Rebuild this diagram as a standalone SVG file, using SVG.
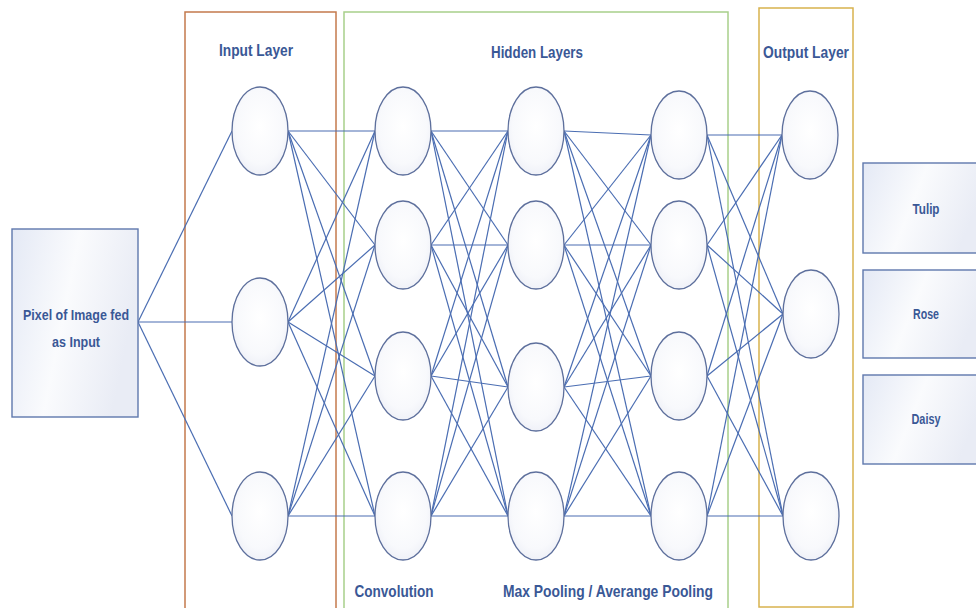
<svg xmlns="http://www.w3.org/2000/svg" width="976" height="608" viewBox="0 0 976 608">
  <defs>
    <radialGradient id="nodeFill" cx="50%" cy="45%" r="60%">
      <stop offset="0" stop-color="#ffffff"/>
      <stop offset="0.7" stop-color="#f8f9fc"/>
      <stop offset="1" stop-color="#eceef6"/>
    </radialGradient>
    <linearGradient id="boxFill" x1="0" y1="0" x2="1" y2="0.3">
      <stop offset="0" stop-color="#e4e9f5"/>
      <stop offset="0.5" stop-color="#fafbfd"/>
      <stop offset="1" stop-color="#e9ecf5"/>
    </linearGradient>
    <style>
      .layer { fill: none; stroke-width: 1.5; }
      .node ellipse { fill: url(#nodeFill); stroke: #5d6f9c; stroke-width: 1.3; }
      .box rect { fill: url(#boxFill); stroke: #5f78ad; stroke-width: 1.4; }
      #connectors line { stroke: #4a6db2; stroke-width: 1.2; }
      text { font-family: "Liberation Sans", Arial, sans-serif; font-weight: bold; fill: #3a5896; text-anchor: middle; }
      .title { font-size: 17px; }
      .lbl { font-size: 15.5px; }
    </style>
  </defs>

  <rect width="976" height="608" fill="#ffffff"/>

  <!-- layer frames -->
  <g id="frames">
    <rect class="layer" x="185" y="12" width="151" height="610" stroke="#c47a4c"/>
    <rect class="layer" x="344" y="12" width="384" height="610" stroke="#a8cf8a"/>
    <rect class="layer" x="759" y="8" width="94" height="599" stroke="#d8b24e"/>
  </g>

  <!-- frame titles -->
  <g id="titles">
    <text class="title" x="256" y="56" textLength="74" lengthAdjust="spacingAndGlyphs">Input Layer</text>
    <text class="title" x="537" y="58" textLength="92" lengthAdjust="spacingAndGlyphs">Hidden Layers</text>
    <text class="title" x="806" y="58" textLength="86" lengthAdjust="spacingAndGlyphs">Output Layer</text>
    <text class="title" x="394" y="597" textLength="79" lengthAdjust="spacingAndGlyphs">Convolution</text>
    <text class="title" x="608" y="597" textLength="210" lengthAdjust="spacingAndGlyphs">Max Pooling / Averange Pooling</text>
  </g>

  <!-- connectors -->
  <g id="connectors">
    <!-- source box to input nodes -->
    <line x1="138" y1="322" x2="232" y2="131"/>
    <line x1="138" y1="322" x2="232" y2="322"/>
    <line x1="138" y1="322" x2="232" y2="516"/>
    <!-- input to convolution -->
    <line x1="288" y1="131" x2="375" y2="131"/>
    <line x1="288" y1="131" x2="375" y2="245"/>
    <line x1="288" y1="131" x2="375" y2="376"/>
    <line x1="288" y1="131" x2="375" y2="516"/>
    <line x1="288" y1="322" x2="375" y2="131"/>
    <line x1="288" y1="322" x2="375" y2="245"/>
    <line x1="288" y1="322" x2="375" y2="376"/>
    <line x1="288" y1="322" x2="375" y2="516"/>
    <line x1="288" y1="516" x2="375" y2="131"/>
    <line x1="288" y1="516" x2="375" y2="245"/>
    <line x1="288" y1="516" x2="375" y2="376"/>
    <line x1="288" y1="516" x2="375" y2="516"/>
    <!-- convolution to pooling -->
    <line x1="431" y1="131" x2="508" y2="131"/>
    <line x1="431" y1="131" x2="508" y2="245"/>
    <line x1="431" y1="131" x2="508" y2="387"/>
    <line x1="431" y1="131" x2="508" y2="516"/>
    <line x1="431" y1="245" x2="508" y2="131"/>
    <line x1="431" y1="245" x2="508" y2="245"/>
    <line x1="431" y1="245" x2="508" y2="387"/>
    <line x1="431" y1="245" x2="508" y2="516"/>
    <line x1="431" y1="376" x2="508" y2="131"/>
    <line x1="431" y1="376" x2="508" y2="245"/>
    <line x1="431" y1="376" x2="508" y2="387"/>
    <line x1="431" y1="376" x2="508" y2="516"/>
    <line x1="431" y1="516" x2="508" y2="131"/>
    <line x1="431" y1="516" x2="508" y2="245"/>
    <line x1="431" y1="516" x2="508" y2="387"/>
    <line x1="431" y1="516" x2="508" y2="516"/>
    <!-- pooling to third hidden column -->
    <line x1="564" y1="131" x2="651" y2="135"/>
    <line x1="564" y1="131" x2="651" y2="245"/>
    <line x1="564" y1="131" x2="651" y2="376"/>
    <line x1="564" y1="131" x2="651" y2="516"/>
    <line x1="564" y1="245" x2="651" y2="135"/>
    <line x1="564" y1="245" x2="651" y2="245"/>
    <line x1="564" y1="245" x2="651" y2="376"/>
    <line x1="564" y1="245" x2="651" y2="516"/>
    <line x1="564" y1="387" x2="651" y2="135"/>
    <line x1="564" y1="387" x2="651" y2="245"/>
    <line x1="564" y1="387" x2="651" y2="376"/>
    <line x1="564" y1="387" x2="651" y2="516"/>
    <line x1="564" y1="516" x2="651" y2="135"/>
    <line x1="564" y1="516" x2="651" y2="245"/>
    <line x1="564" y1="516" x2="651" y2="376"/>
    <line x1="564" y1="516" x2="651" y2="516"/>
    <!-- third hidden column to output -->
    <line x1="707" y1="135" x2="782" y2="135"/>
    <line x1="707" y1="135" x2="783" y2="314"/>
    <line x1="707" y1="135" x2="783" y2="516"/>
    <line x1="707" y1="245" x2="782" y2="135"/>
    <line x1="707" y1="245" x2="783" y2="314"/>
    <line x1="707" y1="245" x2="783" y2="516"/>
    <line x1="707" y1="376" x2="782" y2="135"/>
    <line x1="707" y1="376" x2="783" y2="314"/>
    <line x1="707" y1="376" x2="783" y2="516"/>
    <line x1="707" y1="516" x2="782" y2="135"/>
    <line x1="707" y1="516" x2="783" y2="314"/>
    <line x1="707" y1="516" x2="783" y2="516"/>
  </g>

  <!-- source box -->
  <g id="source" class="box">
    <rect x="12" y="229" width="126" height="188"/>
    <text class="lbl" x="76" y="320" textLength="106" lengthAdjust="spacingAndGlyphs">Pixel of Image fed</text>
    <text class="lbl" x="76" y="347" textLength="48" lengthAdjust="spacingAndGlyphs">as Input</text>
  </g>

  <!-- input layer -->
  <g id="in1" class="node"><ellipse cx="260" cy="131" rx="28" ry="44"/></g>
  <g id="in2" class="node"><ellipse cx="260" cy="322" rx="28" ry="44"/></g>
  <g id="in3" class="node"><ellipse cx="260" cy="516" rx="28" ry="44"/></g>

  <!-- convolution column -->
  <g id="conv1" class="node"><ellipse cx="403" cy="131" rx="28" ry="44"/></g>
  <g id="conv2" class="node"><ellipse cx="403" cy="245" rx="28" ry="44"/></g>
  <g id="conv3" class="node"><ellipse cx="403" cy="376" rx="28" ry="44"/></g>
  <g id="conv4" class="node"><ellipse cx="403" cy="516" rx="28" ry="44"/></g>

  <!-- pooling column -->
  <g id="pool1" class="node"><ellipse cx="536" cy="131" rx="28" ry="44"/></g>
  <g id="pool2" class="node"><ellipse cx="536" cy="245" rx="28" ry="44"/></g>
  <g id="pool3" class="node"><ellipse cx="536" cy="387" rx="28" ry="44"/></g>
  <g id="pool4" class="node"><ellipse cx="536" cy="516" rx="28" ry="44"/></g>

  <!-- third hidden column -->
  <g id="hid1" class="node"><ellipse cx="679" cy="135" rx="28" ry="44"/></g>
  <g id="hid2" class="node"><ellipse cx="679" cy="245" rx="28" ry="44"/></g>
  <g id="hid3" class="node"><ellipse cx="679" cy="376" rx="28" ry="44"/></g>
  <g id="hid4" class="node"><ellipse cx="679" cy="516" rx="28" ry="44"/></g>

  <!-- output layer -->
  <g id="out1" class="node"><ellipse cx="810" cy="135" rx="28" ry="44"/></g>
  <g id="out2" class="node"><ellipse cx="811" cy="314" rx="28" ry="44"/></g>
  <g id="out3" class="node"><ellipse cx="811" cy="516" rx="28" ry="44"/></g>

  <!-- class boxes -->
  <g id="tulip" class="box">
    <rect x="863" y="163" width="120" height="90"/>
    <text class="lbl" x="926" y="214" textLength="27" lengthAdjust="spacingAndGlyphs">Tulip</text>
  </g>
  <g id="rose" class="box">
    <rect x="863" y="270" width="120" height="88"/>
    <text class="lbl" x="926" y="319" textLength="26" lengthAdjust="spacingAndGlyphs">Rose</text>
  </g>
  <g id="daisy" class="box">
    <rect x="863" y="375" width="120" height="89"/>
    <text class="lbl" x="926" y="424" textLength="29" lengthAdjust="spacingAndGlyphs">Daisy</text>
  </g>
</svg>
